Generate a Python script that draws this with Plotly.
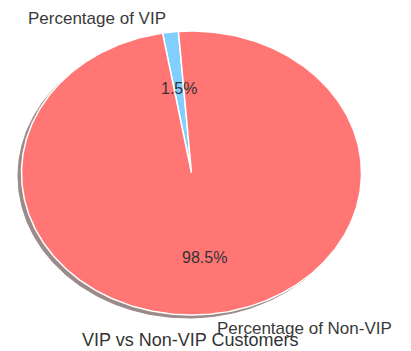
import numpy as np
import plotly.graph_objects as go

# Data
categories = ["Percentage of VIP", "Percentage of Non-VIP"]
values = [1.5, 98.5]
colors = ["#80cfff", "#ff7675"]
title_text = "VIP vs Non-VIP Customers"

start_angle = 94.4  # degrees, counter-clockwise
W, H = 411, 351
cx_px, cy_px, rx_px, ry_px = 191.5, 173.0, 170.0, 142.0

fig = go.Figure()

# shadow (offset ellipse)
t = np.linspace(0, 2 * np.pi, 400)
sx, sy = -3.5 / rx_px, -3.0 / ry_px
fig.add_trace(go.Scatter(x=np.cos(t) + sx, y=np.sin(t) + sy, mode="lines",
                         fill="toself", fillcolor="#9a8a8a",
                         line=dict(color="#9a8a8a", width=1),
                         hoverinfo="skip", showlegend=False))

total = sum(values)
ang = np.deg2rad(start_angle)
font = "Liberation Sans, Arial, Helvetica, sans-serif"
for cat, v, col in zip(categories, values, colors):
    span = 2 * np.pi * v / total
    tt = np.linspace(ang, ang + span, max(3, int(400 * v / total) + 2))
    xs = np.concatenate([[0], np.cos(tt), [0]])
    ys = np.concatenate([[0], np.sin(tt), [0]])
    fig.add_trace(go.Scatter(x=xs, y=ys, mode="lines", fill="toself",
                             fillcolor=col, line=dict(color="white", width=1.5),
                             hoverinfo="skip", showlegend=False))
    mid = ang + span / 2
    # percentage label
    fig.add_annotation(x=0.6 * np.cos(mid), y=0.6 * np.sin(mid),
                       text=f"{v / total * 100:.1f}%", showarrow=False,
                       font=dict(size=16, color="#333333", family=font),
                       xanchor="center", yanchor="middle")
    # category label
    lx, ly = 1.1 * np.cos(mid), 1.1 * np.sin(mid)
    fig.add_annotation(x=lx, y=ly, text=cat, showarrow=False,
                       font=dict(size=17, color="#3a3a3a", family=font),
                       xanchor="left" if lx > 0 else "right", yanchor="middle")
    ang += span

fig.add_annotation(xref="paper", yref="paper", x=190 / W, y=1 - 340 / H,
                   text=title_text, showarrow=False,
                   font=dict(size=18, color="#333333", family=font),
                   xanchor="center", yanchor="middle")

fig.update_xaxes(visible=False, range=[-cx_px / rx_px, (W - cx_px) / rx_px])
fig.update_yaxes(visible=False, range=[-(H - cy_px) / ry_px, cy_px / ry_px])
fig.update_layout(width=W, height=H, margin=dict(l=0, r=0, t=0, b=0),
                  paper_bgcolor="white", plot_bgcolor="white", showlegend=False)

fig.write_html("out.html")
